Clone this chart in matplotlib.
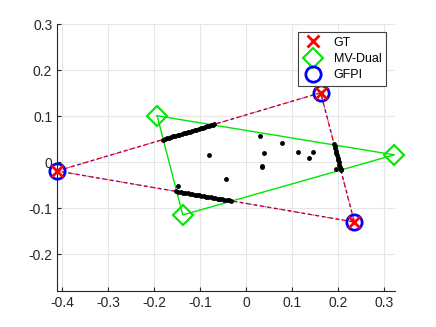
import matplotlib
matplotlib.use("Agg")
import matplotlib.pyplot as plt

plt.rcParams['font.family'] = ['Liberation Sans', 'DejaVu Sans']

# vertices
gt_x = [-0.411, 0.1624, 0.2355]
gt_y = [-0.019, 0.151, -0.130]
gfpi_x = [-0.411, 0.1624, 0.2355]
gfpi_y = [-0.019, 0.151, -0.130]
mv_x = [-0.1935, 0.3224, -0.1377]
mv_y = [0.101, 0.016, -0.1146]

# data points
pts_x = [-0.181, -0.176, -0.172, -0.168, -0.163, -0.158, -0.154, -0.149, -0.145, -0.140,
         -0.136, -0.131, -0.127, -0.122, -0.117, -0.112, -0.108, -0.103, -0.098, -0.094,
         -0.089, -0.085, -0.080, -0.076, -0.072, -0.069,
         -0.152, -0.147, -0.142, -0.137, -0.132, -0.127, -0.122, -0.117, -0.112, -0.107,
         -0.102, -0.097, -0.092, -0.087, -0.082, -0.077, -0.072, -0.067, -0.062, -0.057,
         -0.052, -0.047, -0.042, -0.037, -0.032,
         0.1914, 0.1927, 0.1941, 0.1954, 0.1967, 0.1980, 0.1993, 0.2006, 0.2019, 0.2032,
         0.2045, 0.2056, 0.2063,
         -0.0798, -0.0442, 0.031, 0.0398, 0.0783, 0.1138, 0.1457, 0.1363, 0.0355, 0.034,
         -0.147, 0.195]
pts_y = [0.0492, 0.0507, 0.0519, 0.0531, 0.0546, 0.0561, 0.0573, 0.0587, 0.0599, 0.0614,
         0.0626, 0.0641, 0.0653, 0.0667, 0.0682, 0.0697, 0.0709, 0.0724, 0.0739, 0.0751,
         0.0765, 0.0777, 0.0792, 0.0804, 0.0816, 0.0825,
         -0.0635, -0.0643, -0.0652, -0.0660, -0.0669, -0.0678, -0.0686, -0.0695, -0.0703, -0.0712,
         -0.0721, -0.0729, -0.0738, -0.0746, -0.0755, -0.0763, -0.0772, -0.0781, -0.0789, -0.0798,
         -0.0806, -0.0815, -0.0824, -0.0832, -0.0841,
         0.040, 0.035, 0.030, 0.025, 0.020, 0.015, 0.010, 0.005, 0.000, -0.005,
         -0.010, -0.014, -0.017,
         0.0159, -0.0363, 0.0572, 0.0209, 0.0413, 0.023, 0.0224, 0.0094, -0.0073, -0.010,
         -0.052, -0.0146]

xticks = [-0.4, -0.3, -0.2, -0.1, 0, 0.1, 0.2, 0.3]
yticks = [-0.2, -0.1, 0, 0.1, 0.2, 0.3]

fig = plt.figure(figsize=(4.36, 3.27), dpi=100)
ax = fig.add_axes([0.131, 0.110, 0.775, 0.816])

def closed(v):
    return list(v) + [v[0]]

green = (0, 0.9, 0)
ax.plot(closed(mv_x), closed(mv_y), color=green, lw=1, zorder=2)
ax.plot(closed(gt_x), closed(gt_y), color='red', lw=1, ls=(0, (3, 2)), zorder=3)
ax.plot(closed(gfpi_x), closed(gfpi_y), color='blue', lw=0.7, ls=(3, (2, 3)), alpha=0.7, zorder=3)
ax.plot(pts_x, pts_y, 'o', color='black', ms=3.5, mew=0, zorder=4)

h_gfpi, = ax.plot(gfpi_x, gfpi_y, 'o', ms=11, mfc='none', mec='blue', mew=2, zorder=5,
                  clip_on=False, label='GFPI')
h_gt, = ax.plot(gt_x, gt_y, 'x', ms=8, mec='red', mew=2, zorder=6, clip_on=False, label='GT')
h_mv, = ax.plot(mv_x, mv_y, 'D', ms=10, mfc='none', mec=green, mew=1.5, zorder=5,
                clip_on=False, label='MV-Dual')

ax.set_xlim(-0.411, 0.324)
ax.set_ylim(-0.28, 0.3)
ax.set_xticks(xticks)
ax.set_yticks(yticks)
ax.set_xticklabels(['-0.4', '-0.3', '-0.2', '-0.1', '0', '0.1', '0.2', '0.3'])
ax.set_yticklabels(['-0.2', '-0.1', '0', '0.1', '0.2', '0.3'])
ax.grid(True, color='#e6e6e6', lw=0.8)
ax.set_axisbelow(True)
for s in ['top', 'right']:
    ax.spines[s].set_visible(False)
for s in ['left', 'bottom']:
    ax.spines[s].set_color('#262626')
    ax.spines[s].set_linewidth(0.8)
ax.tick_params(direction='in', length=3, labelsize=10, colors='#262626')

leg = ax.legend([h_gt, h_mv, h_gfpi], ['GT', 'MV-Dual', 'GFPI'], loc='upper right',
                bbox_to_anchor=(0.973, 0.970), fontsize=9, fancybox=False,
                framealpha=1, edgecolor='#404040', borderpad=0.35, handletextpad=0.9,
                handlelength=1.6, labelspacing=0.35, borderaxespad=0)
leg.get_frame().set_linewidth(0.8)
leg.set_zorder(10)

fig.savefig('out.png', dpi=100)
